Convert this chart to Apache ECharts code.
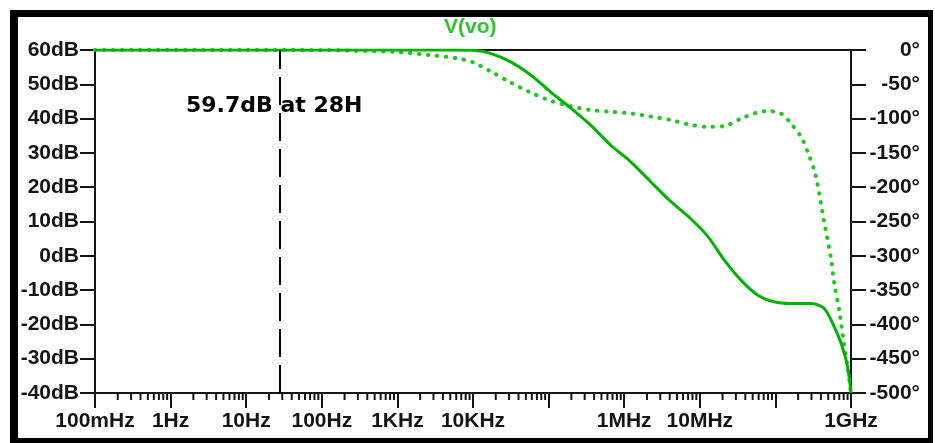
<!DOCTYPE html>
<html>
<head>
<meta charset="utf-8">
<script src="https://cdn.jsdelivr.net/npm/echarts@6/dist/echarts.min.js"></script>
<style>
  html, body { margin: 0; padding: 0; background: #ffffff; }
  #chart { width: 935px; height: 443px; }
</style>
</head>
<body>
<div id="chart"></div>
<script>
// magnitude curve (left axis, dB)
const freqMag = [0.1, 1, 10, 100, 300, 1e3, 3e3, 6e3, 1e4, 1.7e4, 3.1e4, 5.8e4, 1.06e5, 1.95e5,
  3.6e5, 6.6e5, 1.22e6, 2.24e6, 4.1e6, 7.6e6, 1.26e7, 2.1e7, 3.5e7, 5.8e7, 9.6e7, 1.6e8,
  2.95e8, 4.4e8, 6e8, 7.4e8, 9e8, 1e9];
const magDb = [60, 60, 60, 60, 60, 60, 60, 60, 59.9, 59.0, 56.6, 52.7, 47.8, 43.1,
  38.1, 32.3, 27.4, 21.6, 15.9, 10.8, 5.8, -1.2, -7.1, -11.4, -13.4, -13.9,
  -13.9, -15.3, -20.7, -25.5, -32.3, -40];

// phase curve (right axis, degrees)
const freqPhase = [0.1, 10, 100, 300, 1e3, 3e3, 6e3, 1e4, 1.7e4, 3.1e4, 5.8e4, 1.06e5, 1.95e5,
  3.6e5, 6.6e5, 1.22e6, 2.24e6, 4.1e6, 7.6e6, 1.26e7, 2.1e7, 3.5e7, 5.8e7, 8e7, 1.2e8,
  1.6e8, 2.2e8, 2.7e8, 3.4e8, 4.4e8, 5.4e8, 6e8, 7e8, 8e8, 9e8, 1e9];
const phaseDeg = [0, 0, -0.3, -1, -3, -8, -12, -18, -31, -47, -62, -74, -82,
  -87.5, -90, -92.5, -97, -102, -109, -112, -111, -100, -91, -89, -93,
  -107, -127, -150, -182, -250, -302, -340, -380, -425, -462, -500];

// x tick labels, one per decade from 100mHz to 1GHz (blank ones are not printed)
const freqLabels = ['100mHz', '1Hz', '10Hz', '100Hz', '1KHz', '10KHz', '', '1MHz', '10MHz', '', '1GHz'];
const cursorFreq = 28;
const cursorText = '59.7dB at 28H';

const lg = Math.log10;
const magData = freqMag.map((f, i) => [lg(f), magDb[i]]);
const phaseData = freqPhase.map((f, i) => [lg(f), phaseDeg[i]]);

// minor ticks at 2..9 inside every decade
const minorTicks = [];
for (let d = -1; d < 9; d++) {
  for (let k = 2; k < 10; k++) minorTicks.push([lg(k) + d, -40]);
}

const ink = '#141414';
const labelFont = {
  color: ink,
  fontFamily: 'Liberation Sans, Arial, sans-serif',
  fontWeight: 'bold',
  fontSize: 21,
};

const chart = echarts.init(document.getElementById('chart'));

chart.setOption({
  animation: false,
  title: {
    text: 'V(vo)',
    left: 444,
    top: 17,
    padding: 0,
    textStyle: {
      color: '#2ec42e',
      fontFamily: 'Liberation Sans, Arial, sans-serif',
      fontWeight: 'bold',
      fontSize: 21,
    },
  },
  grid: {
    left: 95,
    right: 84,
    top: 50,
    bottom: 50,
    show: true,
    borderColor: ink,
    borderWidth: 2,
  },
  xAxis: {
    type: 'value',
    min: -1,
    max: 9,
    interval: 1,
    axisLine: { onZero: false, lineStyle: { color: ink, width: 2 } },
    axisTick: { length: 15, lineStyle: { color: ink, width: 2 } },
    axisLabel: Object.assign({}, labelFont, {
      margin: 18,
      formatter: (v) => freqLabels[Math.round(v) + 1] || '',
    }),
    splitLine: { show: false },
  },
  yAxis: [
    {
      type: 'value',
      min: -40,
      max: 60,
      interval: 10,
      axisLine: { show: true, onZero: false, lineStyle: { color: ink, width: 2 } },
      axisTick: { show: true, length: 15, lineStyle: { color: ink, width: 2 } },
      axisLabel: Object.assign({}, labelFont, {
        margin: 16,
        formatter: (v) => v + 'dB',
      }),
      splitLine: { show: false },
    },
    {
      type: 'value',
      position: 'right',
      min: -500,
      max: 0,
      interval: 50,
      axisLine: { show: true, onZero: false, lineStyle: { color: ink, width: 2 } },
      axisTick: { show: true, length: 15, lineStyle: { color: ink, width: 2 } },
      axisLabel: Object.assign({}, labelFont, {
        margin: 69,
        align: 'right',
        formatter: (v) => v + '°',
      }),
      splitLine: { show: false },
    },
  ],
  graphic: [
    // outer black frame
    { type: 'rect', shape: { x: 10, y: 10, width: 923, height: 7 }, style: { fill: '#000' } },
    { type: 'rect', shape: { x: 10, y: 10, width: 8, height: 433 }, style: { fill: '#000' } },
    { type: 'rect', shape: { x: 928, y: 10, width: 5, height: 433 }, style: { fill: '#000' } },
    { type: 'rect', shape: { x: 10, y: 438, width: 923, height: 5 }, style: { fill: '#000' } },
    {
      type: 'text',
      x: 186,
      y: 106,
      style: {
        text: cursorText,
        fill: '#000',
        font: 'bold 22px "DejaVu Sans", sans-serif',
        verticalAlign: 'middle',
      },
    },
  ],
  series: [
    {
      name: 'minor ticks',
      type: 'custom',
      silent: true,
      clip: false,
      data: minorTicks,
      renderItem: (params, api) => {
        const p = api.coord([api.value(0), api.value(1)]);
        return {
          type: 'line',
          shape: { x1: p[0], y1: p[1], x2: p[0], y2: p[1] + 7 },
          style: { stroke: ink, lineWidth: 2 },
        };
      },
    },
    {
      name: 'phase',
      type: 'line',
      yAxisIndex: 1,
      data: phaseData,
      showSymbol: false,
      smooth: 0.3,
      lineStyle: { color: '#1ec81e', width: 4, type: [0.5, 8.5], cap: 'round' },
      z: 3,
    },
    {
      name: 'magnitude',
      type: 'line',
      data: magData,
      showSymbol: false,
      smooth: 0.3,
      lineStyle: { color: '#00b300', width: 3 },
      z: 4,
      markLine: {
        silent: true,
        symbol: 'none',
        label: { show: false },
        lineStyle: { color: '#000', width: 2, type: [28, 8] },
        data: [{ xAxis: lg(cursorFreq) }],
      },
    },
  ],
});
</script>
</body>
</html>
